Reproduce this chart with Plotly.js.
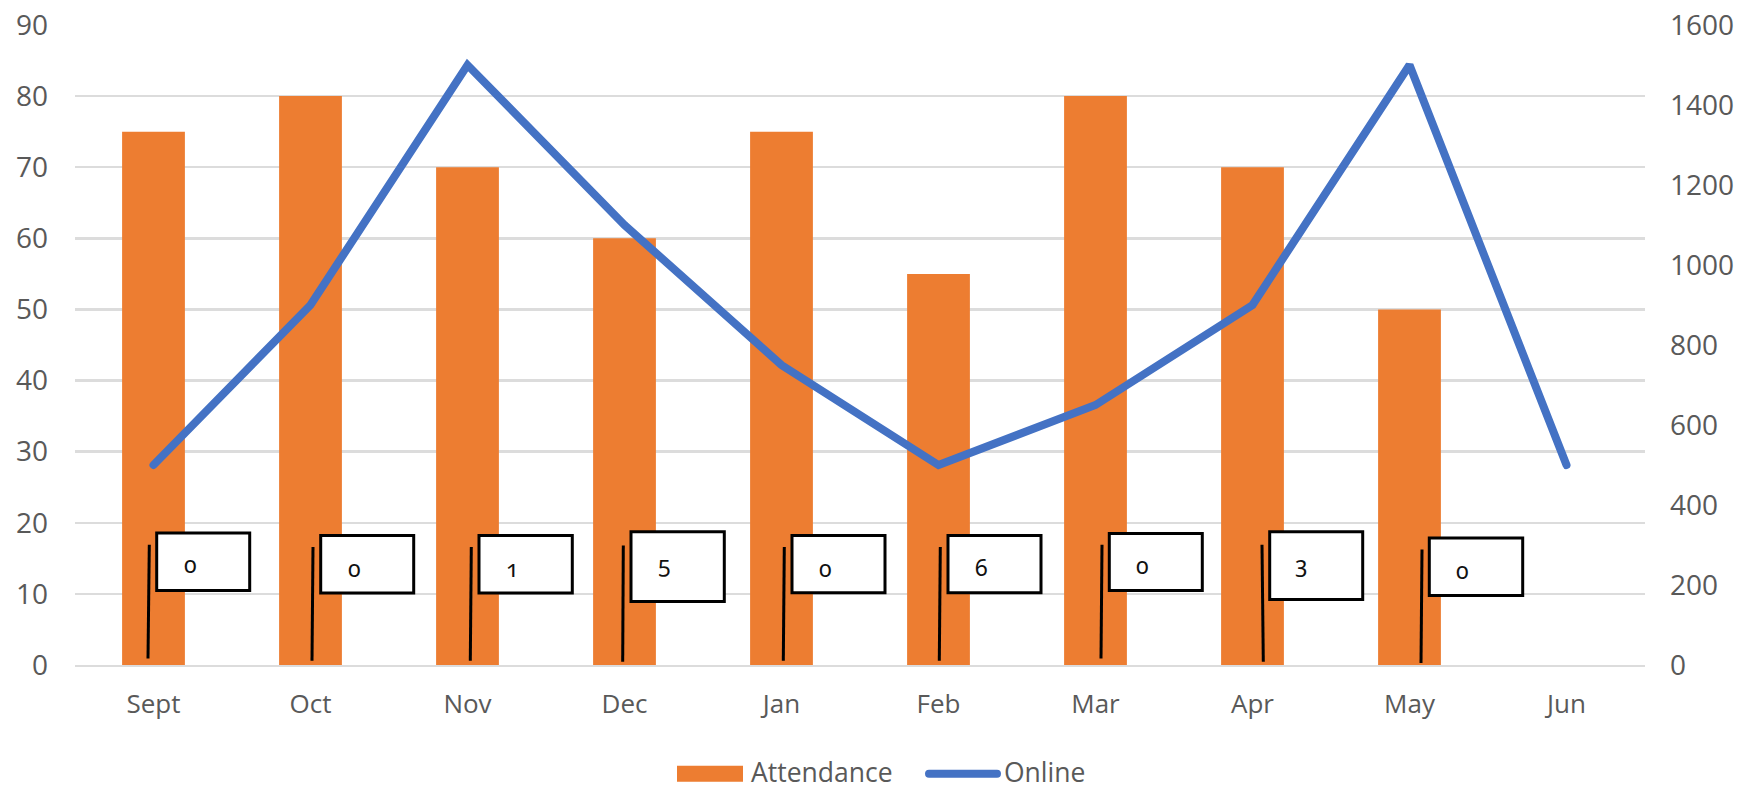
<!DOCTYPE html>
<html>
<head>
<meta charset="utf-8">
<script src="https://cdn.plot.ly/plotly-3.0.1.min.js"></script>
<style>
  html, body { margin: 0; padding: 0; background: #fff; }
  /* old-style numerals for the counts on the flags */
  .annotation-text { font-feature-settings: "onum" 1; }
  .js-line { stroke-linecap: round; }
  path[style*="rgb(68, 114, 196)"] { stroke-linecap: round; }
</style>
</head>
<body>
<div id="chart" style="width:1749px;height:792px;"></div>
<script>
// Monthly attendance (bars, left axis) and online views (line, right axis)
const months = ['Sept', 'Oct', 'Nov', 'Dec', 'Jan', 'Feb', 'Mar', 'Apr', 'May', 'Jun'];
const attendance = [75, 80, 70, 60, 75, 55, 80, 70, 50, null];
const online = [500, 900, 1500, 1100, 750, 500, 650, 900, 1500, 500];

// Counts shown on the flags planted in each month's bar
const flagCounts = ['0', '0', '1', '5', '0', '6', '0', '3', '0'];

// Flag geometry, in page pixels
const poleTopX = [149.3, 313, 471.3, 623.3, 784.3, 940.3, 1102, 1262, 1422];
const poleTopY = [545, 547.3, 547.3, 545.7, 547.3, 547.3, 545, 545, 549.7];
const poleBottomX = [148, 312, 470.3, 622.7, 783.3, 939.3, 1101, 1263.3, 1421];
const poleBottomY = [658.7, 661, 661, 662, 661, 661, 658.7, 662, 663.3];
const boxLeft = [156.7, 320.7, 479, 631, 792, 948, 1109.3, 1269.7, 1429.3];
const boxRight = [249.7, 413.7, 572.3, 724.3, 885, 1041, 1202.3, 1362.7, 1522.7];
const boxTop = [533.3, 535.7, 535.7, 532, 535.7, 535.7, 533.7, 532, 538.3];
const boxBottom = [590.7, 593.3, 593.3, 601.7, 593, 593, 590.7, 599.7, 595.7];
const labelX = [190, 354, 512, 664.3, 825, 981.3, 1142.7, 1301, 1462.7];
const labelY = [564.7, 568, 568.7, 563.8, 568, 567.7, 565.3, 563.8, 570.7];

const W = 1749, H = 792;
const margin = { l: 75, r: 104, t: 25.3, b: 126.7, pad: 0 };
const px = x => (x - margin.l) / (W - margin.l - margin.r);
const py = y => 1 - (y - margin.t) / (H - margin.t - margin.b);

const textColor = '#595959';
const gridColor = '#dcdcdc';
const uiFont = '"Open Sans", sans-serif';

const shapes = [];
const annotations = [];

flagCounts.forEach((count, i) => {
  shapes.push({
    type: 'line', xref: 'paper', yref: 'paper',
    x0: px(poleTopX[i]), y0: py(poleTopY[i]),
    x1: px(poleBottomX[i]), y1: py(poleBottomY[i]),
    line: { color: '#000', width: 3 }
  });
  shapes.push({
    type: 'rect', xref: 'paper', yref: 'paper',
    x0: px(boxLeft[i]), y0: py(boxTop[i]),
    x1: px(boxRight[i]), y1: py(boxBottom[i]),
    fillcolor: '#fff', line: { color: '#000', width: 3 }
  });
  annotations.push({
    xref: 'paper', yref: 'paper', x: px(labelX[i]), y: py(labelY[i]),
    xanchor: 'center', yanchor: 'middle', showarrow: false,
    text: count, font: { family: '"Noto Sans", sans-serif', size: 23, color: '#111' }
  });
});

// Legend row under the plot
shapes.push({
  type: 'rect', xref: 'paper', yref: 'paper',
  x0: px(677), y0: py(766), x1: px(743), y1: py(782),
  fillcolor: '#ED7D31', line: { width: 0 }
});
shapes.push({
  type: 'line', xref: 'paper', yref: 'paper',
  x0: px(929), y0: py(774), x1: px(997), y1: py(774),
  line: { color: '#4472C4', width: 8 }
});
[['Attendance', 751], ['Online', 1004]].forEach(([name, x]) => {
  annotations.push({
    xref: 'paper', yref: 'paper', x: px(x), y: py(772.5),
    xanchor: 'left', yanchor: 'middle', showarrow: false, xshift: -2,
    text: name, font: { family: uiFont, size: 26.5, color: textColor }
  });
});

const traces = [
  {
    type: 'bar', name: 'Attendance', x: months, y: attendance, yaxis: 'y',
    width: 0.4, marker: { color: '#ED7D31' }
  },
  {
    type: 'scatter', mode: 'lines', name: 'Online', x: months, y: online, yaxis: 'y2',
    line: { color: '#4472C4', width: 8, shape: 'linear' }
  }
];

const layout = {
  width: W, height: H, margin,
  paper_bgcolor: '#fff', plot_bgcolor: '#fff',
  showlegend: false,
  font: { family: uiFont, color: textColor },
  xaxis: {
    type: 'category', categoryorder: 'array', categoryarray: months,
    range: [-0.5, 9.5], showgrid: false, zeroline: false,
    showline: true, linecolor: gridColor, linewidth: 2.4,
    ticks: '', ticklabelstandoff: 14,
    tickfont: { family: uiFont, size: 26, color: textColor }
  },
  yaxis: {
    range: [0, 90], tick0: 0, dtick: 10,
    showgrid: true, gridcolor: gridColor, gridwidth: 2.4, zeroline: false,
    showline: false, ticks: '', ticklabelstandoff: 26,
    tickfont: { family: uiFont, size: 28, color: textColor }
  },
  yaxis2: {
    range: [0, 1600], tick0: 0, dtick: 200, overlaying: 'y', side: 'right',
    showgrid: false, zeroline: false, showline: false, ticks: '', ticklabelstandoff: 24,
    tickfont: { family: uiFont, size: 28, color: textColor }
  },
  shapes,
  annotations
};

Plotly.newPlot('chart', traces, layout, { displayModeBar: false, staticPlot: true });
</script>
</body>
</html>
